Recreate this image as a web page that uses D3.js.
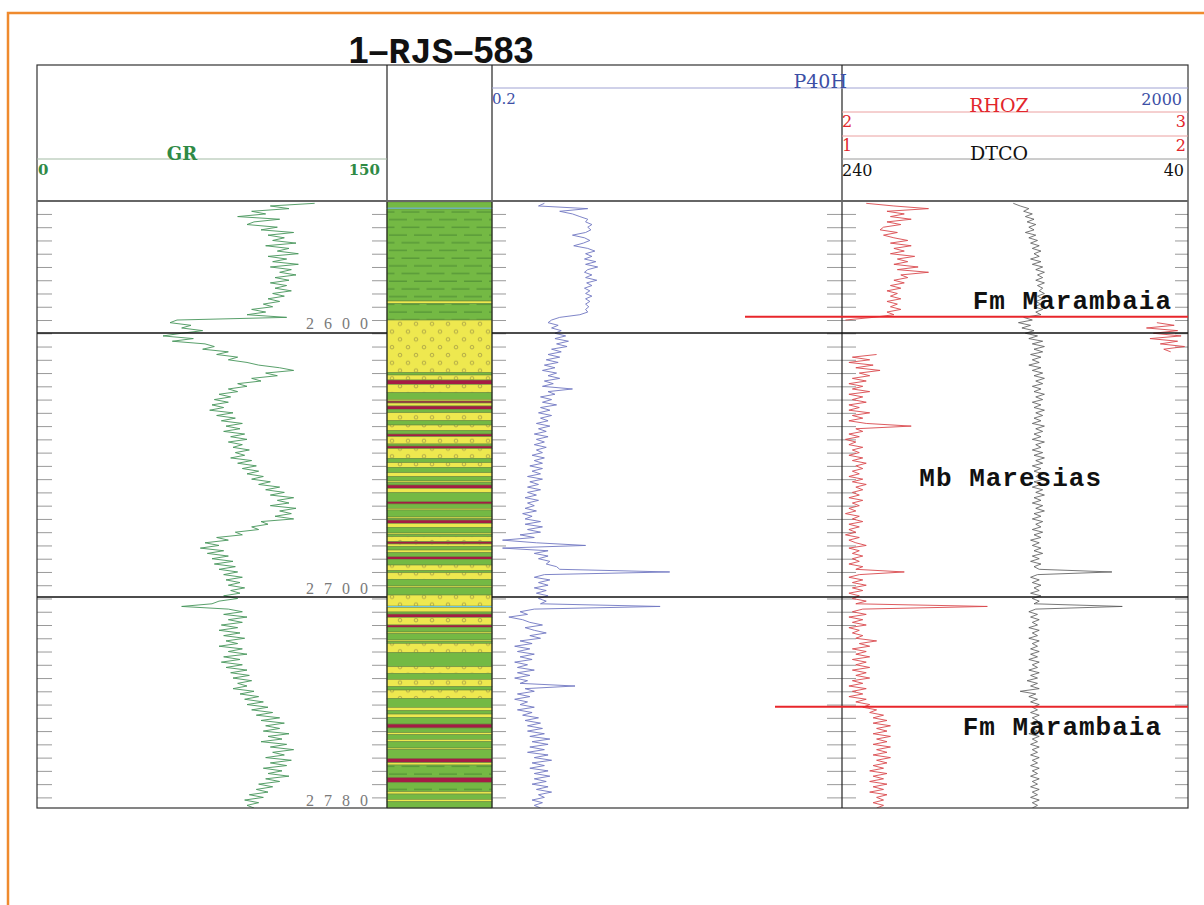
<!DOCTYPE html>
<html>
<head>
<meta charset="utf-8">
<script src="https://cdn.jsdelivr.net/npm/d3@7"></script>
<style>
  body { margin: 0; background: #fff; }
  svg text { font-family: 'DejaVu Serif', serif; }
</style>
</head>
<body>
<svg id="log" width="1204" height="905"></svg>
<script>
// depth window of the plot (m) and first sample depth, one sample per metre
const depthTop = 2555.5, depthBase = 2784
const firstSample = 2556

// GR (API), 2556..2784
const gr = [
  119,100,108,92,98,86,104,93,90,103,
  96,110,99,106,101,111,98,108,103,112,
  99,107,101,112,100,109,104,111,102,108,
  100,107,102,109,101,106,99,104,97,101,
  92,98,90,107,60,57,66,62,71,62,
  54,67,58,72,76,71,82,77,86,82,
  90,95,104,110,98,103,92,96,86,90,
  82,86,78,83,76,82,75,80,74,84,
  77,85,79,88,81,87,80,89,83,90,
  82,88,84,91,85,89,83,92,86,94,
  88,95,90,97,92,100,95,104,98,106,
  100,110,103,108,100,111,104,109,102,110,
  96,99,92,95,85,88,77,82,72,78,
  70,80,73,82,75,84,76,85,78,86,
  80,88,81,87,82,89,83,87,80,86,
  78,75,62,82,88,80,90,82,88,79,
  86,78,87,80,89,81,86,78,88,82,
  90,80,87,79,88,81,90,83,91,84,
  92,86,90,84,93,87,95,89,97,90,
  99,92,101,94,104,96,106,98,104,97,
  108,99,105,96,107,100,110,101,106,98,
  109,100,107,97,105,99,108,98,104,95,
  101,94,99,91,97,89,95,90,93
]

// P40H resistivity (ohm.m)
const p40h = [
  0.40,0.37,0.71,0.49,0.58,0.64,0.71,0.69,0.75,0.71,
  0.74,0.69,0.58,0.68,0.73,0.67,0.59,0.71,0.78,0.69,
  0.75,0.68,0.79,0.69,0.81,0.71,0.68,0.75,0.69,0.80,
  0.70,0.75,0.68,0.73,0.69,0.75,0.69,0.73,0.69,0.72,
  0.69,0.71,0.64,0.49,0.44,0.42,0.48,0.44,0.50,0.46,
  0.53,0.46,0.55,0.47,0.54,0.44,0.50,0.42,0.49,0.41,
  0.48,0.40,0.46,0.39,0.47,0.42,0.49,0.40,0.45,0.39,
  0.58,0.42,0.46,0.38,0.44,0.39,0.47,0.38,0.43,0.37,
  0.44,0.38,0.42,0.36,0.43,0.37,0.41,0.35,0.42,0.36,
  0.40,0.35,0.41,0.36,0.39,0.34,0.40,0.35,0.39,0.33,
  0.39,0.34,0.38,0.32,0.39,0.33,0.37,0.32,0.38,0.32,
  0.36,0.31,0.37,0.32,0.35,0.31,0.36,0.30,0.34,0.31,
  0.38,0.31,0.39,0.32,0.38,0.29,0.35,0.23,0.36,0.69,
  0.23,0.42,0.35,0.42,0.37,0.43,0.41,0.47,0.49,2.1,
  0.40,0.35,0.43,0.37,0.42,0.35,0.41,0.36,0.42,0.37,
  0.41,0.38,1.85,0.35,0.29,0.32,0.25,0.30,0.33,0.39,
  0.31,0.35,0.41,0.33,0.38,0.29,0.34,0.27,0.33,0.28,
  0.35,0.29,0.34,0.27,0.32,0.28,0.35,0.28,0.33,0.27,
  0.32,0.29,0.60,0.31,0.35,0.28,0.33,0.27,0.32,0.29,
  0.35,0.28,0.34,0.30,0.37,0.31,0.38,0.32,0.39,0.32,
  0.40,0.33,0.43,0.34,0.42,0.33,0.40,0.32,0.42,0.35,
  0.44,0.34,0.40,0.33,0.42,0.35,0.43,0.35,0.41,0.34,
  0.42,0.36,0.44,0.37,0.40,0.34,0.39,0.35,0.38
]

// RHOZ bulk density (g/cc), wraps to the 1-2 scale below 2
const rhoz = [
  2.07,2.15,2.25,2.13,2.18,2.14,2.20,2.13,2.17,2.12,
  2.11,2.16,2.12,2.15,2.19,2.14,2.20,2.15,2.18,2.14,
  2.21,2.16,2.19,2.15,2.22,2.16,2.25,2.17,2.19,2.15,
  2.18,2.14,2.17,2.13,2.16,2.14,2.17,2.13,2.16,2.14,
  2.17,2.13,2.15,2.09,2.01,1.91,1.96,1.88,1.97,1.90,
  1.98,1.89,1.97,1.92,1.99,1.93,1.95,2.10,2.03,2.08,
  2.02,2.09,2.04,2.11,2.05,2.08,2.03,2.07,2.02,2.06,
  2.03,2.08,2.02,2.06,2.03,2.07,2.02,2.05,2.02,2.08,
  2.03,2.06,2.02,2.07,2.20,2.04,2.06,2.02,2.05,2.01,
  2.04,2.02,2.06,2.03,2.05,2.02,2.06,2.03,2.07,2.04,
  2.06,2.03,2.05,2.02,2.06,2.03,2.07,2.04,2.06,2.03,
  2.05,2.02,2.06,2.03,2.05,2.02,2.04,2.01,2.05,2.03,
  2.06,2.02,2.05,2.02,2.04,2.01,2.05,2.02,2.04,2.07,
  2.02,2.05,2.03,2.06,2.03,2.05,2.02,2.06,2.04,2.18,
  2.05,2.02,2.06,2.03,2.07,2.03,2.06,2.02,2.05,2.03,
  2.07,2.04,2.42,2.06,2.03,2.07,2.02,2.06,2.03,2.07,
  2.02,2.05,2.03,2.06,2.04,2.10,2.05,2.08,2.03,2.07,
  2.04,2.08,2.03,2.07,2.04,2.08,2.03,2.07,2.04,2.08,
  2.03,2.06,2.02,2.07,2.03,2.06,2.02,2.07,2.04,2.08,
  2.06,2.10,2.08,2.12,2.09,2.13,2.09,2.14,2.10,2.13,
  2.09,2.14,2.10,2.13,2.09,2.14,2.10,2.13,2.09,2.14,
  2.10,2.13,2.09,2.12,2.08,2.13,2.09,2.12,2.08,2.13,
  2.09,2.12,2.08,2.13,2.10,2.12,2.09,2.12,2.10
]

// DTCO compressional slowness (us/ft)
const dtco = [
  141,137,132,135,130,134,129,133,128,132,
  129,134,128,132,127,131,126,130,125,129,
  126,131,125,130,124,128,123,127,124,128,
  123,127,124,126,123,127,124,128,125,129,
  124,128,125,135,130,138,131,136,129,134,
  127,132,124,130,123,129,124,131,125,130,
  126,132,125,130,124,129,123,128,124,130,
  125,129,123,128,124,130,125,129,123,128,
  124,129,125,130,123,128,124,129,125,130,
  123,128,125,130,124,129,123,128,124,130,
  125,129,124,128,123,129,125,130,124,128,
  123,129,125,130,124,128,123,129,125,130,
  124,128,125,130,124,129,125,131,126,130,
  125,129,124,130,126,131,125,129,126,84,
  127,131,126,130,125,129,126,131,125,130,
  126,129,78,128,132,127,131,126,130,127,
  132,126,130,127,132,126,130,127,131,126,
  131,127,132,126,130,127,132,126,131,127,
  133,127,131,126,137,128,132,127,131,126,
  130,127,131,126,130,127,131,126,130,127,
  132,126,130,127,131,126,130,127,131,126,
  130,127,131,126,130,127,131,126,130,127,
  131,126,130,127,131,126,130,127,130
]

// lithology: bed tops (m) and rock type
// gn shale, sh shale (dashed), ss sandstone, sy thin sand, mr marl, bl carbonate stringer
const lithTops = [
  2555.5, 2557.65, 2558.14, 2592.83, 2593.7, 2600.0, 2619.87, 2620.73, 2622.62, 2624.24,
  2627.41, 2629.9, 2630.54, 2631.3, 2632.42, 2633.67, 2634.95, 2637.97, 2639.59, 2641.74,
  2642.98, 2644.0, 2646.75, 2647.5, 2648.52, 2652.14, 2653.8, 2655.54, 2657.57, 2659.08,
  2660.7, 2661.27, 2662.2, 2663.46, 2665.12, 2668.51, 2669.38, 2671.0, 2671.64, 2674.28,
  2674.84, 2675.41, 2676.65, 2678.16, 2680.31, 2680.87, 2681.7, 2683.59, 2684.46, 2685.47,
  2686.72, 2687.74, 2689.25, 2690.23, 2692.38, 2694.53, 2695.29, 2697.78, 2700.3, 2700.87,
  2703.69, 2707.84, 2708.33, 2710.1, 2710.86, 2712.1, 2715.0, 2715.87, 2717.64, 2718.21,
  2720.66, 2721.23, 2721.91, 2725.45, 2730.73, 2733.22, 2735.48, 2738.27, 2739.51, 2742.64,
  2746.04, 2747.32, 2748.57, 2749.81, 2752.34, 2753.84, 2755.61, 2756.37, 2758.1, 2759.01,
  2761.39, 2761.95, 2765.27, 2766.93, 2767.8, 2772.44, 2774.48, 2777.87, 2778.74, 2780.74,
  2781.64
]
const lithTypes = [
  'gn','bl','sh','sy','sh','ss','gn','ss','mr','ss',
  'gn','sy','mr','sy','mr','gn','ss','gn','ss','gn',
  'mr','ss','gn','mr','ss','gn','ss','gn','sy','gn',
  'sy','gn','mr','sy','gn','mr','gn','sy','gn','sy',
  'gn','mr','sy','gn','sy','gn','ss','mr','ss','gn',
  'sy','gn','mr','gn','ss','gn','ss','gn','sy','gn',
  'ss','bl','sy','gn','mr','ss','mr','gn','sy','gn',
  'sy','gn','ss','gn','ss','gn','ss','gn','ss','gn',
  'sy','gn','sy','gn','mr','gn','sy','gn','sy','gn',
  'sy','gn','mr','sy','sh','mr','sh','sy','gn','sy',
  'gn'
]

// formation tops and labels
const formationTops = [2598.75, 2745.8]
const formationNames = ['Fm Marambaia', 'Mb Maresias', 'Fm Marambaia']
const formationLabelDepths = [2595.9, 2662.6, 2756.5]

const sectionBreaks = [2604.9, 2704.45]
const depthLabels = [2600, 2700, 2780]
const tickDepths = d3.range(2560, 2781, 5)

// ---------- layout ----------
const svg = d3.select('#log')
const frameTop = 65, logTop = 202, logBase = 808
const t1 = [37, 387], lith = [387, 492], t3 = [492, 842], t4 = [842, 1188]

const y = d3.scaleLinear().domain([depthTop, depthBase]).range([logTop, logBase])
const grX = d3.scaleLinear().domain([0, 150]).range(t1)
const resX = d3.scaleLog().domain([0.2, 2000]).range([t3[0], t4[1]])
const rhoX = d3.scaleLinear().domain([2, 3]).range(t4)
const rhoWrapX = d3.scaleLinear().domain([1, 2]).range(t4)
const dtX = d3.scaleLinear().domain([240, 40]).range(t4)

const depthOf = i => firstSample + i

// orange page frame
svg.append('path')
    .attr('d', 'M8,905V13H1204')
    .attr('fill', 'none')
    .attr('stroke', '#ef8a2e')
    .attr('stroke-width', 2.5)

// title
let title = svg.append('text')
    .attr('x', 441).attr('y', 63)
    .attr('text-anchor', 'middle')
    .style('font-weight', 'bold')
    .style('font-size', '36px')
    .attr('fill', '#111')
title.append('tspan').style('font-family', 'Liberation Sans').text('1–')
title.append('tspan').style('font-family', 'Liberation Mono').text('RJS')
title.append('tspan').style('font-family', 'Liberation Sans').text('–583')

// ---------- patterns ----------
const green = '#74b944', yellow = '#eee84f', maroon = '#a51c45', blue = '#6cc6e8'
let defs = svg.append('defs')

let sand = defs.append('pattern').attr('id', 'sand')
    .attr('patternUnits', 'userSpaceOnUse')
    .attr('x', lith[0]).attr('y', 0)
    .attr('width', 16).attr('height', 15.6)
sand.append('rect').attr('width', 16).attr('height', 15.6).attr('fill', yellow)
sand.selectAll('circle').data([[5, 4], [13, 11.8]]).enter().append('circle')
    .attr('cx', d => d[0]).attr('cy', d => d[1]).attr('r', 1.8)
    .attr('fill', 'none').attr('stroke', '#a39c45').attr('stroke-width', 0.8)

let shale = defs.append('pattern').attr('id', 'shale')
    .attr('patternUnits', 'userSpaceOnUse')
    .attr('x', lith[0]).attr('y', 0)
    .attr('width', 25).attr('height', 15.4)
shale.append('rect').attr('width', 25).attr('height', 15.4).attr('fill', green)
shale.selectAll('line').data([[2, 20, 4], [14.5, 25, 11.7], [0, 7.5, 11.7]]).enter().append('line')
    .attr('x1', d => d[0]).attr('x2', d => d[1])
    .attr('y1', d => d[2]).attr('y2', d => d[2])
    .attr('stroke', '#4c8a33').attr('stroke-width', 1)

const lithFill = {gn: green, sh: 'url(#shale)', ss: 'url(#sand)', sy: yellow, mr: maroon, bl: blue}

// clip paths for the curve tracks
function clip(id, x0, x1) {
    defs.append('clipPath').attr('id', id).append('rect')
        .attr('x', x0).attr('y', logTop).attr('width', x1 - x0).attr('height', logBase - logTop)
}
clip('c1', t1[0], t1[1])
clip('c34', t3[0], t4[1])
clip('c4', t4[0], t4[1])

// ---------- lithology column ----------
let beds = lithTops.map((top, i) => ({
    top: top,
    base: i + 1 < lithTops.length ? lithTops[i + 1] : depthBase,
    type: lithTypes[i]
}))
svg.append('g').selectAll('rect')
    .data(beds)
    .enter()
    .append('rect')
    .attr('x', lith[0])
    .attr('width', lith[1] - lith[0])
    .attr('y', d => y(d.top))
    .attr('height', d => y(d.base) - y(d.top))
    .attr('fill', d => lithFill[d.type])
    .attr('stroke', d => d.type === 'bl' ? 'none' : '#6b8b3c')
    .attr('stroke-width', 0.6)

// ---------- depth ticks ----------
function tickAxis(x, side, size) {
    let axis = side === 'right' ? d3.axisLeft(y) : d3.axisRight(y)
    let g = svg.append('g')
        .attr('transform', 'translate(' + x + ',0)')
        .call(axis.tickValues(tickDepths).tickSize(size).tickFormat(''))
    g.select('.domain').remove()
    g.selectAll('line').attr('stroke', '#9a9a9a')
}
tickAxis(t1[0], 'left', 15)
tickAxis(t1[1], 'right', 15)
tickAxis(t3[0], 'left', 14)
tickAxis(t3[1], 'right', 15)
tickAxis(t4[0], 'left', 14)
tickAxis(t4[1], 'right', 13)

let labelAxis = svg.append('g')
    .attr('transform', 'translate(' + (t1[1] - 15) + ',0)')
    .call(d3.axisLeft(y).tickValues(depthLabels).tickSize(0).tickPadding(1)
        .tickFormat(d => String(d).split('').join(' ')))
labelAxis.select('.domain').remove()
labelAxis.selectAll('text')
    .attr('dy', '0.5em')
    .attr('fill', '#7a7a7a')
    .style('font-family', 'Liberation Serif')
    .style('font-size', '16px')
    .style('letter-spacing', '3px')

// ---------- curves ----------
function curve(values, xs, color, clipId, width) {
    svg.append('path')
        .datum(values)
        .attr('clip-path', 'url(#' + clipId + ')')
        .attr('fill', 'none')
        .attr('stroke', color)
        .attr('stroke-width', width)
        .attr('stroke-linejoin', 'round')
        .attr('d', d3.line().x(v => xs(v)).y((v, i) => y(depthOf(i))))
}
curve(gr, grX, '#46955a', 'c1', 0.9)
curve(p40h, resX, '#7077c2', 'c34', 0.9)
curve(dtco, dtX, '#555', 'c4', 0.8)

// RHOZ split into runs on the main scale and the wrapped scale
let runs = [], run = null
rhoz.forEach((v, i) => {
    let wrap = v < 2
    if (!run || run.wrap !== wrap) {
        run = {wrap: wrap, pts: []}
        runs.push(run)
    }
    run.pts.push({v: v, d: depthOf(i)})
})
svg.append('g').selectAll('path')
    .data(runs)
    .enter()
    .append('path')
    .attr('clip-path', 'url(#c4)')
    .attr('fill', 'none')
    .attr('stroke', '#d9484d')
    .attr('stroke-width', 0.9)
    .attr('d', r => d3.line()
        .x(p => r.wrap ? rhoWrapX(p.v) : rhoX(p.v))
        .y(p => y(p.d))(r.pts))

// ---------- frame and dividers ----------
svg.append('rect')
    .attr('x', t1[0]).attr('y', frameTop)
    .attr('width', t4[1] - t1[0]).attr('height', logBase - frameTop)
    .attr('fill', 'none').attr('stroke', '#333').attr('stroke-width', 1.2)
svg.selectAll('.divider')
    .data([lith[0], lith[1], t4[0]])
    .enter()
    .append('line')
    .attr('class', 'divider')
    .attr('x1', d => d).attr('x2', d => d)
    .attr('y1', frameTop).attr('y2', logBase)
    .attr('stroke', '#222').attr('stroke-width', 1.2)
svg.append('line')
    .attr('x1', t1[0]).attr('x2', t4[1])
    .attr('y1', logTop - 1).attr('y2', logTop - 1)
    .attr('stroke', '#666').attr('stroke-width', 2)

// section breaks across the curve tracks
sectionBreaks.forEach(d => {
    [[t1[0], t1[1]], [t3[0], t4[1]]].forEach(span => {
        svg.append('line')
            .attr('x1', span[0]).attr('x2', span[1])
            .attr('y1', y(d)).attr('y2', y(d))
            .attr('stroke', '#111').attr('stroke-width', 1.4)
    })
})

// ---------- headers ----------
function hline(x0, x1, yy, color) {
    svg.append('line')
        .attr('x1', x0).attr('x2', x1).attr('y1', yy).attr('y2', yy)
        .attr('stroke', color).attr('stroke-width', 1)
}
function label(x, yy, txt, color, anchor, size, weight) {
    svg.append('text')
        .attr('x', x).attr('y', yy)
        .attr('text-anchor', anchor)
        .attr('fill', color)
        .style('font-size', size + 'px')
        .style('font-weight', weight || 'normal')
        .text(txt)
}
const grColor = '#2f8a45', resColor = '#3c4fa5', rhoColor = '#e2262c'

hline(t1[0], t1[1], 159, '#a3bba4')
label(182, 160, 'GR', grColor, 'middle', 18, 'bold')
label(t1[0] + 1, 175, grX.domain()[0], grColor, 'start', 15, 'bold')
label(t1[1] - 7, 175, grX.domain()[1], grColor, 'end', 15, 'bold')

hline(t3[0], t4[1], 88, '#a0a3d3')
label(t3[1] + 5, 88, 'P40H', resColor, 'end', 19)
label(t3[0], 104, resX.domain()[0], resColor, 'start', 15)
label(t4[1] - 6, 105, resX.domain()[1], resColor, 'end', 16)

hline(t4[0], t4[1], 112, '#eba0a0')
hline(t4[0], t4[1], 136, '#eba0a0')
label(999, 112, 'RHOZ', rhoColor, 'middle', 19)
label(t4[0], 127, rhoX.domain()[0], rhoColor, 'start', 16)
label(t4[1] - 2, 127, rhoX.domain()[1], rhoColor, 'end', 16)
label(t4[0], 151, rhoWrapX.domain()[0], rhoColor, 'start', 16)
label(t4[1] - 2, 151, rhoWrapX.domain()[1], rhoColor, 'end', 16)

hline(t4[0], t4[1], 159, '#9a9a9a')
label(999, 160, 'DTCO', '#111', 'middle', 19)
label(t4[0], 176, dtX.domain()[0], '#111', 'start', 16)
label(t4[1] - 4, 176, dtX.domain()[1], '#111', 'end', 16)

// ---------- formation tops ----------
const topLineStart = [745, 775]
formationTops.forEach((d, i) => {
    svg.append('line')
        .attr('x1', topLineStart[i]).attr('x2', t4[1])
        .attr('y1', y(d)).attr('y2', y(d))
        .attr('stroke', '#e8262b').attr('stroke-width', 2)
})
const labelRight = [1172, 1102, 1162]
svg.selectAll('.fm')
    .data(formationNames)
    .enter()
    .append('text')
    .attr('class', 'fm')
    .attr('x', (d, i) => labelRight[i])
    .attr('y', (d, i) => y(formationLabelDepths[i]))
    .attr('text-anchor', 'end')
    .style('font-family', 'Liberation Mono')
    .style('font-weight', 'bold')
    .style('font-size', '26px')
    .style('letter-spacing', '1px')
    .attr('fill', '#111')
    .text(d => d)
</script>
</body>
</html>
